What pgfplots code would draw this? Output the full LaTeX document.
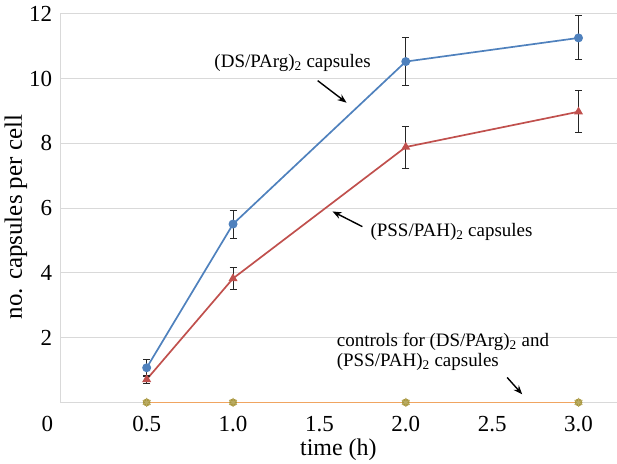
\documentclass[border=0pt]{standalone}
\usepackage{fontspec}
\setmainfont{Liberation Serif}
\newfontfamily\tnr{Liberation Serif}
\usepackage{pgfplots}
\pgfplotsset{compat=1.18}
\usetikzlibrary{arrows.meta}
\definecolor{cblue}{HTML}{4F81BD}
\definecolor{cred}{HTML}{C0504D}
\definecolor{corange}{HTML}{F0A561}
\definecolor{cgold}{HTML}{A8963C}
\definecolor{cgrid}{HTML}{D9D9D9}
\newcommand{\annfont}{\tnr\fontsize{19}{23}\selectfont}
\begin{document}
\begin{tikzpicture}
\begin{axis}[
  scale only axis, width=557pt, height=389pt,
  xmin=0, xmax=3.22, ymin=0, ymax=12,
  xtick={0.5,1,1.5,2,2.5,3}, ytick={2,4,6,8,10,12},
  xticklabels={0.5,1.0,1.5,2.0,2.5,3.0},
  yticklabels={2,4,6,8,10,12},
  xticklabel style={inner sep=0pt, yshift=-14pt},
  yticklabel style={inner sep=0pt, xshift=-8pt},
  extra x ticks={0}, extra x tick labels={0},
  extra x tick style={xticklabel style={xshift=-13pt}},
  ymajorgrids, grid style={cgrid, line width=1pt},
  axis x line*=bottom, axis y line*=left,
  axis line style={cgrid, line width=1pt},
  major tick length=0pt,
  tick label style={font=\tnr\fontsize{23}{27}\selectfont},
  label style={font=\tnr\fontsize{24}{29}\selectfont},
  xlabel={time (h)}, ylabel={no. capsules per cell},
  xlabel style={at={(axis description cs:0.5,-0.121)}, anchor=center},
  ylabel style={at={(axis description cs:-0.080,0.477)}, anchor=center, font=\tnr\fontsize{25}{30}\selectfont},
  clip=false,
  error bars/error bar style={black!85, line width=0.9pt},
  error bars/error mark options={rotate=90, black!85, mark size=3.5pt, line width=0.9pt},
]
\addplot[corange, line width=1.7pt, mark=*, mark size=3pt, mark options={cgold, fill=cgold}]
  coordinates {(0.5,0) (1,0) (2,0) (3,0)};
\addplot[only marks, mark=asterisk, mark size=4.5pt, mark options={cgold!80, line width=1pt}]
  coordinates {(0.5,0) (1,0) (2,0) (3,0)};
\addplot[cred, line width=1.7pt, mark=triangle*, mark size=3.5pt, mark options={fill=cred},
  error bars/.cd, y dir=both, y explicit]
  coordinates {(0.5,0.71) +- (0,0.13) (1,3.83) +- (0,0.35) (2,7.89) +- (0,0.65) (3,8.98) +- (0,0.65)};
\addplot[cblue, line width=1.7pt, mark=*, mark size=3.6pt, mark options={fill=cblue},
  error bars/.cd, y dir=both, y explicit]
  coordinates {(0.5,1.07) +- (0,0.26) (1,5.51) +- (0,0.43) (2,10.53) +- (0,0.73) (3,11.26) +- (0,0.68)};
\node[anchor=base, font=\annfont] at (axis cs:1.345,10.34) {(DS/PArg)\textsubscript{2} capsules};
\draw[-{Stealth[length=9pt,width=7pt]}, line width=1.4pt] (axis cs:1.49,9.94) -- (axis cs:1.657,9.26);
\node[anchor=base west, font=\annfont, inner sep=0pt] at (axis cs:1.795,5.12) {(PSS/PAH)\textsubscript{2} capsules};
\draw[-{Stealth[length=9pt,width=7pt]}, line width=1.4pt] (axis cs:1.749,5.43) -- (axis cs:1.576,5.90);
\node[anchor=base west, font=\annfont, inner sep=0pt] at (axis cs:1.60,1.73) {controls for (DS/PArg)\textsubscript{2} and};
\node[anchor=base west, font=\annfont, inner sep=0pt] at (axis cs:1.60,1.11) {(PSS/PAH)\textsubscript{2} capsules};
\draw[-{Stealth[length=9pt,width=7pt]}, line width=1.4pt] (axis cs:2.587,0.77) -- (axis cs:2.674,0.25);
\end{axis}
\path (current axis.south west) ++(-60.4pt,-60pt);
\path (current axis.north east) ++(0pt,14pt);
\end{tikzpicture}
\end{document}
